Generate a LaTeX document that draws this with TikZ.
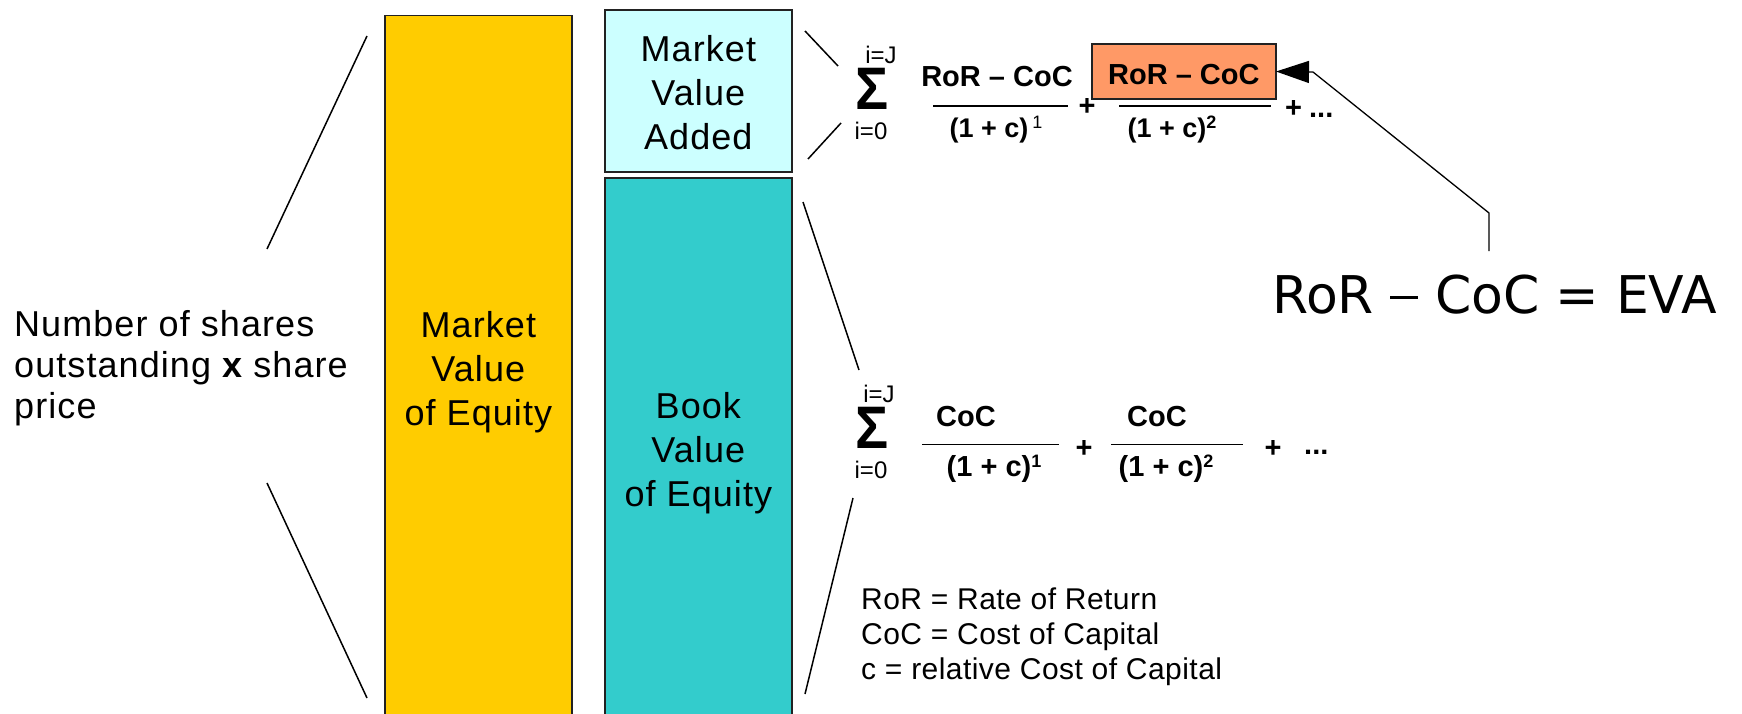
\documentclass[tikz,border=0pt]{standalone}
\usepackage{fontspec}
\setmainfont{Liberation Sans}
\newfontfamily\trackedfont[LetterSpace=3]{Liberation Sans}
\newfontfamily\legendfont[LetterSpace=1.5]{Liberation Sans}
\newfontfamily\evafont{DejaVu Sans}
\usetikzlibrary{arrows.meta}
\newcommand\setfs[2]{\fontsize{#1}{#2}\selectfont}
\newcommand\supfig[1]{\raisebox{9pt}{\setfs{18}{18}#1}}
\newcommand\evadash{\raisebox{14pt}{\rule{28pt}{3.5pt}}}
\definecolor{equityyellow}{HTML}{FFCC00}
\definecolor{addedcyan}{HTML}{CCFFFF}
\definecolor{bookteal}{HTML}{33CCCC}
\definecolor{evaorange}{HTML}{FF9966}
\definecolor{edgegray}{HTML}{222222}
\begin{document}
\begin{tikzpicture}[x=1pt,y=-1pt,
  bar/.style={draw=edgegray,line width=1.8pt,inner sep=0pt,outer sep=0pt},
  callout/.style={line width=1.5pt},
  fracline/.style={line width=1.8pt},
  boxlabel/.style={font=\trackedfont\setfs{36}{44},align=center,inner sep=0pt},
  num/.style={font=\bfseries\setfs{29}{34},inner sep=0pt,anchor=base},
  den/.style={font=\bfseries\setfs{27}{32},inner sep=0pt,anchor=base},
  bigden/.style={font=\bfseries\setfs{29}{34},inner sep=0pt,anchor=base},
  idx/.style={font=\setfs{24}{28},inner sep=0pt,anchor=base},
  sumsign/.style={font=\bfseries\setfs{60}{62},inner sep=0pt,anchor=base,xscale=0.92},
  pointer/.style={line width=1.3pt,-{Triangle[length=33pt,width=22pt]}}]

\useasboundingbox (0,0) rectangle (1742,714);
\clip (0,0) rectangle (1742,714);

% left-hand explanation
\node[font=\trackedfont\setfs{36}{41},align=left,inner sep=0pt,anchor=north west]
  (shares) at (14,310) {Number of shares\\outstanding {\bfseries x} share\\price};

% value bars
\node[bar,fill=equityyellow,minimum width=186.7pt,minimum height=714.5pt] (mve) at (478.35,372.75) {};
\node[boxlabel,anchor=north] (mvetext) at (478.35,311) {Market\\Value\\of Equity};

\node[bar,fill=addedcyan,minimum width=186.7pt,minimum height=162.3pt] (mva) at (698.35,90.85) {};
\node[boxlabel,anchor=north] (mvatext) at (698.35,35.5) {Market\\Value\\Added};

\node[bar,fill=bookteal,minimum width=186.7pt,minimum height=551.7pt] (bve) at (698.35,454.15) {};
\node[boxlabel,anchor=north] (bvetext) at (698.35,392) {Book\\Value\\of Equity};

% bracket lines
\coordinate (la1) at (367,36);  \coordinate (la2) at (267,249);
\coordinate (lb1) at (267,483); \coordinate (lb2) at (367,698);
\draw[callout] (la1) -- (la2);
\draw[callout] (lb1) -- (lb2);
\coordinate (ma1) at (805,31);  \coordinate (ma2) at (838,66);
\coordinate (mb1) at (841,123); \coordinate (mb2) at (808,159);
\draw[callout] (ma1) -- (ma2);
\draw[callout] (mb1) -- (mb2);
\coordinate (ba1) at (803,202); \coordinate (ba2) at (859,370);
\coordinate (bb1) at (853,498); \coordinate (bb2) at (805,694);
\draw[callout] (ba1) -- (ba2);
\draw[callout] (bb1) -- (bb2);

% market value added as discounted excess returns
\node[sumsign] (sigT) at (872,110) {Σ};
\node[idx] (ijT) at (881,64) {i=J};
\node[idx] (i0T) at (871,140) {i=0};
\node[num] (n1T) at (997,87) {RoR – CoC};
\draw[fracline] (933,106) -- (1068,106);
\node[den] (d1T) at (996,138) {(1 + c)\hspace{4pt}\supfig{\mdseries 1}};
\node[num] (p1T) at (1087,116) {+};
\node[bar,fill=evaorange,minimum width=184.3pt,minimum height=55pt,
      font=\bfseries\setfs{29}{34},text height=27.5pt,text depth=0.5pt] (eva box) at (1183.85,71.5) {RoR – CoC};
\draw[fracline] (1119,106) -- (1271,106);
\node[den] (d2T) at (1172,138) {(1 + c)\supfig{2}};
\node[num,anchor=base west] (p2T) at (1285,118) {+\hspace{7pt}...};

% book value as discounted cost of capital
\node[sumsign] (sigB) at (872,448) {Σ};
\node[idx] (ijB) at (879,402) {i=J};
\node[idx] (i0B) at (871,478) {i=0};
\node[num] (n1B) at (966,426) {CoC};
\draw[fracline] (922,444.5) -- (1059,444.5);
\node[bigden] (d1B) at (994,476) {(1 + c)\supfig{1}};
\node[num] (p1B) at (1084,457) {+};
\node[num] (n2B) at (1157,426) {CoC};
\draw[fracline] (1111,444.5) -- (1243,444.5);
\node[bigden] (d2B) at (1166,476) {(1 + c)\supfig{2}};
\node[num] (p2B) at (1273,457) {+};
\node[num,anchor=base west] (dotsB) at (1304,454) {...};

% EVA definition and pointer
\node[font=\evafont\setfs{52}{60},inner sep=0pt,anchor=base west] (eva) at (1272,313) {RoR \evadash{} CoC = EVA};
\coordinate (evaTail) at (1489,251);
\coordinate (evaBend) at (1489,213);
\coordinate (evaKnee) at (1313,72);
\draw[pointer] (evaTail) -- (evaBend) -- (evaKnee) -- (eva box.east);

% legend
\node[font=\legendfont\setfs{30}{35},align=left,inner sep=0pt,anchor=north west] (legend) at (861,587.5)
  {RoR = Rate of Return\\CoC = Cost of Capital\\c = relative Cost of Capital};
\end{tikzpicture}
\end{document}
